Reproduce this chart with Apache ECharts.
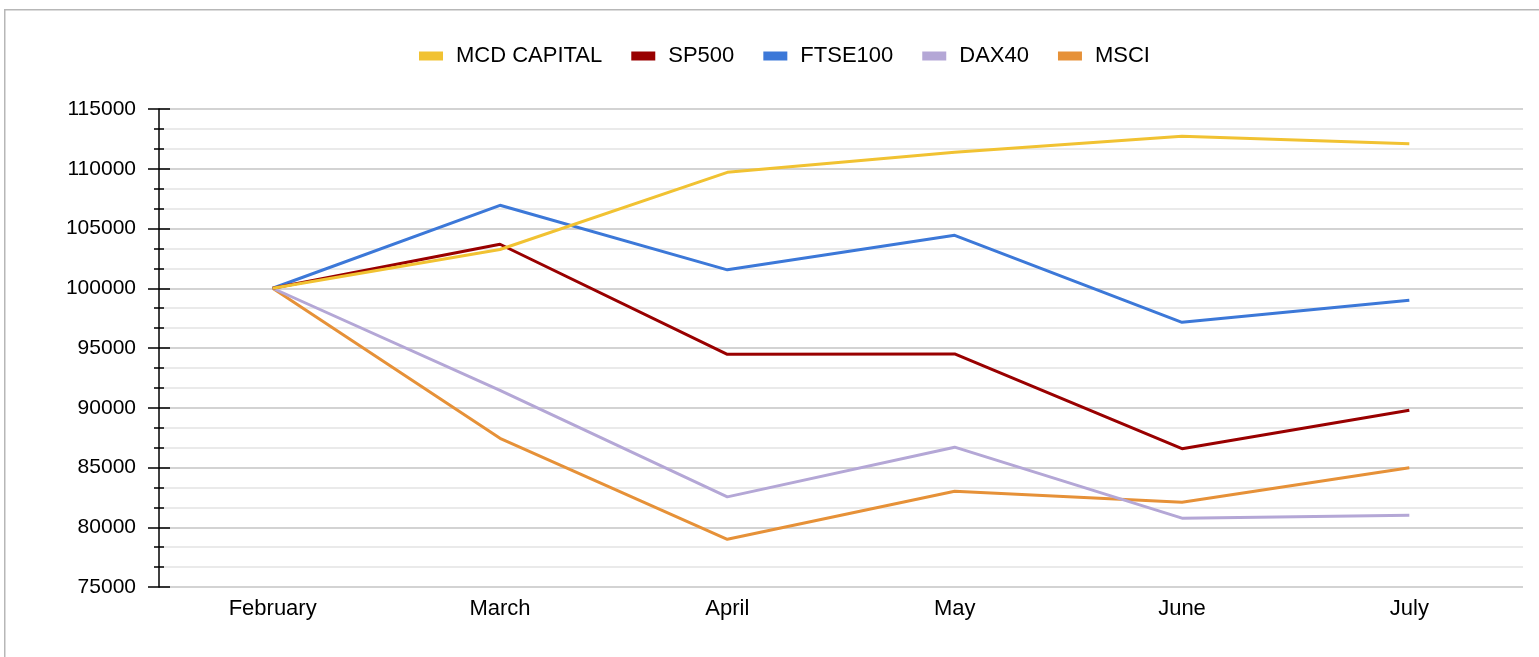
<!DOCTYPE html>
<html>
<head>
<meta charset="utf-8">
<script src="https://cdn.jsdelivr.net/npm/echarts@6/dist/echarts.min.js"></script>
<style>
html,body{margin:0;padding:0;background:#fff;}
#chart{width:1539px;height:657px;}
</style>
</head>
<body>
<div id="chart"></div>
<script>
const categories = ['February', 'March', 'April', 'May', 'June', 'July'];
const mcdCapital = [100000, 103240, 109700, 111380, 112720, 112100];
const sp500 = [100000, 103680, 94470, 94500, 86570, 89790];
const ftse100 = [100000, 106940, 101540, 104430, 97150, 98990];
const dax40 = [100000, 91460, 82540, 86700, 80760, 81000];
const msci = [100000, 87440, 78990, 83020, 82100, 84980];
const seriesNames = ['MCD CAPITAL', 'SP500', 'FTSE100', 'DAX40', 'MSCI'];
const seriesColors = ['#f1c232', '#990000', '#3c78d8', '#b4a7d6', '#e69138'];
const seriesValues = [mcdCapital, sp500, ftse100, dax40, msci];

const chart = echarts.init(document.getElementById('chart'));
const font = 'Liberation Sans, Arial, Helvetica, sans-serif';
const yBase = { type: 'value', min: 75000, max: 115000, interval: 5000, position: 'left' };

chart.setOption({
  animation: false,
  textStyle: { fontFamily: font },
  graphic: [{
    type: 'rect', left: 4, top: 9, z: -10,
    shape: { width: 1600, height: 700 },
    style: { fill: '#fff', stroke: '#b7b7b7', lineWidth: 1.5 }
  }],
  legend: {
    top: 40, left: 414,
    itemWidth: 24, itemHeight: 9, itemGap: 29,
    icon: 'rect',
    textStyle: { fontSize: 22, color: '#000', fontFamily: font, padding: [0, 0, 0, 8] },
    data: seriesNames
  },
  grid: { left: 159, right: 16, top: 109, bottom: 70, containLabel: false },
  xAxis: {
    type: 'category', data: categories, boundaryGap: true,
    axisLine: { show: false }, axisTick: { show: false },
    axisLabel: { fontSize: 22, color: '#000', margin: 11, fontFamily: font }
  },
  yAxis: [
    Object.assign({}, yBase, {
      axisLine: { show: true, lineStyle: { color: '#000', width: 1.5 } },
      axisTick: { show: true, inside: false, length: 11, lineStyle: { color: '#000', width: 1.5 } },
      minorTick: { show: true, splitNumber: 3, length: 5, lineStyle: { color: '#000', width: 1.5 } },
      splitLine: { show: true, lineStyle: { color: '#c4c4c4', width: 1.5 } },
      minorSplitLine: { show: true, lineStyle: { color: '#e4e4e4', width: 1.5 } },
      axisLabel: { fontSize: 21, color: '#000', margin: 23, fontFamily: font, formatter: v => String(v) }
    }),
    Object.assign({}, yBase, {
      axisLine: { show: false },
      axisTick: { show: true, inside: true, length: 11, lineStyle: { color: '#000', width: 1.5 } },
      minorTick: { show: true, splitNumber: 3, length: 5, lineStyle: { color: '#000', width: 1.5 } },
      splitLine: { show: false },
      axisLabel: { show: false }
    })
  ],
  series: seriesNames.map((name, i) => ({
    name: name, type: 'line', yAxisIndex: 0,
    data: seriesValues[i],
    color: seriesColors[i],
    showSymbol: false, symbol: 'none',
    lineStyle: { width: 3, color: seriesColors[i] },
    z: 10 - i
  }))
});
</script>
</body>
</html>
